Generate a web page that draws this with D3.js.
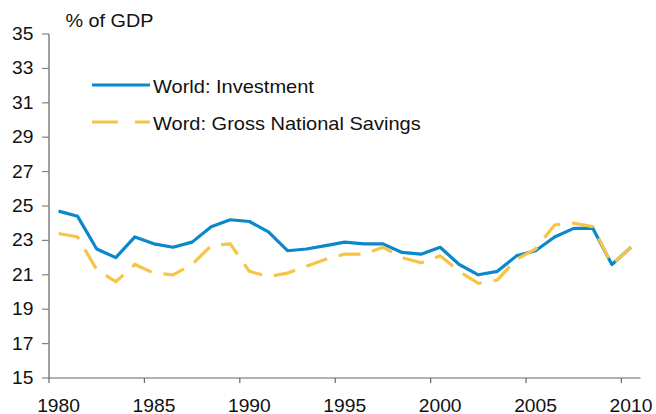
<!DOCTYPE html>
<html><head><meta charset="utf-8">
<script src="https://cdn.jsdelivr.net/npm/d3@7"></script>
<style>body{margin:0;background:#fff}svg{display:block}text{font-family:"Liberation Sans",Arial,sans-serif}</style>
</head><body><svg id="c" width="656" height="414"></svg>
<script>
const years = d3.range(1980, 2011);
const investment = [24.7,24.4,22.5,22.0,23.2,22.8,22.6,22.9,23.8,24.2,24.1,23.5,22.4,22.5,22.7,22.9,22.8,22.8,22.3,22.2,22.6,21.6,21.0,21.2,22.1,22.4,23.2,23.7,23.7,21.6,22.6];
const savings = [23.4,23.2,21.3,20.6,21.6,21.1,21.0,21.6,22.7,22.8,21.2,20.9,21.1,21.5,21.9,22.2,22.2,22.6,22.0,21.7,22.1,21.2,20.5,20.7,21.9,22.5,23.9,24.0,23.8,21.6,22.6];
const yTicks = [15,17,19,21,23,25,27,29,31,33,35];
const xTickYears = [1980,1985,1990,1995,2000,2005,2010];
const seriesNames = ["World: Investment","Word: Gross National Savings"];
const colors = ["#0A88CC","#F6C547"];

const svg = d3.select("#c");
const x0 = 49, x1 = 640.5, yTop = 34, yBot = 378;
const x = d3.scaleBand().domain(years).range([x0, x1]);
const y = d3.scaleLinear().domain([15,35]).range([yBot, yTop]);
const axisColor = "#808080";
const SX = 1.1;

function label(g, tx, ty, txt, anchor, fs){
  g.append("text").attr("transform",`translate(${tx},${ty}) scale(${SX},1)`)
    .attr("text-anchor",anchor||"start").attr("font-size",fs||17.5).attr("fill","#111").text(txt);
}

// y axis
const ya = svg.append("g");
ya.append("line").attr("x1",x0).attr("x2",x0).attr("y1",yTop).attr("y2",yBot).attr("stroke",axisColor).attr("stroke-width",1.5);
yTicks.forEach(t=>{
  ya.append("line").attr("x1",x0-7).attr("x2",x0).attr("y1",y(t)).attr("y2",y(t)).attr("stroke",axisColor).attr("stroke-width",1.2);
  label(ya, 33.5, y(t)+6, t, "end");
});

// x axis
const xa = svg.append("g");
xa.append("line").attr("x1",x0).attr("x2",x1).attr("y1",yBot).attr("y2",yBot).attr("stroke","#666").attr("stroke-width",1.2);
xTickYears.forEach(d=>{
  xa.append("line").attr("x1",x(d)).attr("x2",x(d)).attr("y1",yBot).attr("y2",yBot+5).attr("stroke","#666").attr("stroke-width",1.2);
  label(xa, x(d)+x.bandwidth()/2, 411.5, d, "middle");
});

label(svg, 65.5, 26.5, "% of GDP", "start", 18);

const line = d3.line().x((d,i)=>x(years[i])+x.bandwidth()/2).y(d=>y(d));
svg.append("path").attr("d",line(investment)).attr("fill","none").attr("stroke",colors[0]).attr("stroke-width",3.2).attr("stroke-linejoin","round");
svg.append("path").attr("d",line(savings)).attr("fill","none").attr("stroke",colors[1]).attr("stroke-width",3.2).attr("stroke-dasharray","22,12");

// legend
const lg = svg.append("g");
const legY = [85, 122];
[0,1].forEach(i=>{
  const ly = legY[i];
  lg.append("line").attr("x1",92).attr("x2",150).attr("y1",ly).attr("y2",ly)
    .attr("stroke",colors[i]).attr("stroke-width",3.2).attr("stroke-dasharray", i? "26,17":null);
  label(lg, 153, ly+7.5, seriesNames[i], "start", 18.2);
});
</script></body></html>
